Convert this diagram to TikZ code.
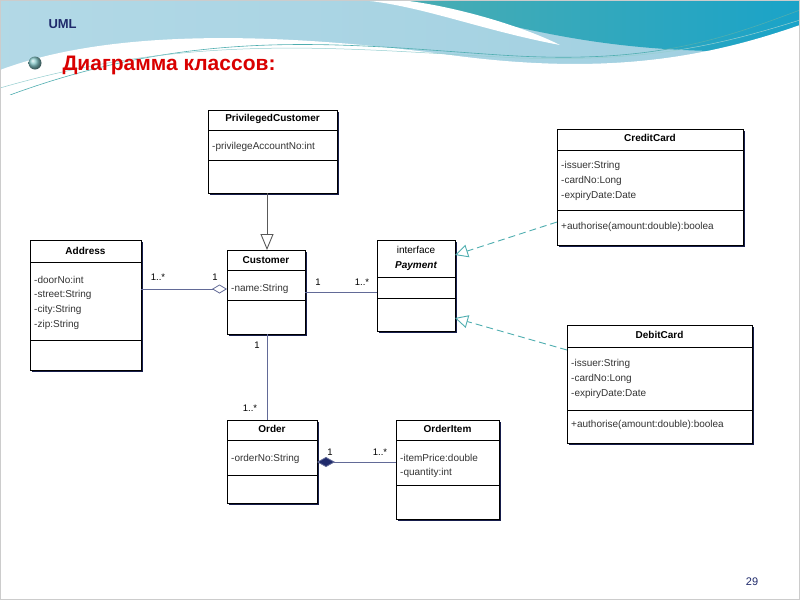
\documentclass[tikz,border=0pt]{standalone}
\usepackage{fontspec}
\setmainfont{Liberation Sans}
\usetikzlibrary{arrows.meta}
\definecolor{navy}{HTML}{1F2A6B}
\definecolor{teal2}{HTML}{4FAEB0}
\definecolor{hdrl}{HTML}{9FCFE0}
\definecolor{hdrd}{HTML}{1AA3C8}
\tikzset{
 box/.style={draw=black, line width=0.8pt, fill=white},
 shadowline/.style={draw=navy!70!black, line width=2pt},
 txt/.style={font=\fontsize{10}{11}\selectfont, text=black!80, inner sep=0pt, anchor=west},
 ttl/.style={font=\bfseries\fontsize{10}{11}\selectfont, inner sep=0pt},
 conn/.style={draw=navy!70, line width=0.8pt},
 lbl/.style={font=\fontsize{9.5}{11}\selectfont, inner sep=0pt},
 real/.style={draw=teal2, line width=0.9pt, dash pattern=on 7pt off 4pt, -{Triangle[open,length=13pt,width=13pt,fill=white]}},
}
\newcommand{\umlbox}[7]{
 \draw[shadowline] (#2+2,#5+1) -- (#4+1,#5+1) -- (#4+1,#3+2);
 \path[box] (#2,#3) rectangle (#4,#5);
 \draw[line width=0.6pt] (#2,#6) -- (#4,#6) (#2,#7) -- (#4,#7);
 \coordinate (#1) at ({(#2+#4)/2},{(#3+#5)/2});
}
\begin{document}
\begin{tikzpicture}[x=1pt,y=-1pt]
\useasboundingbox (0,0) rectangle (800,600);
\fill[white] (0,0) rectangle (800,600);
% header background
\shade[left color=hdrl!80, right color=hdrl] (0,0) rectangle (800,95);
\shade[left color=teal2, right color=hdrd] (360,0) .. controls (500,10) and (560,60) .. (800,50) -- (800,0) -- cycle;
\fill[white] (360,0) .. controls (420,5) and (480,30) .. (560,45) .. controls (520,25) and (450,5) .. (400,0) -- cycle;
\fill[white] (0,95) -- (0,70) .. controls (120,25) and (300,35) .. (450,55) .. controls (600,75) and (700,60) .. (800,25) -- (800,95) -- cycle;
\draw[teal2, line width=0.6pt] (10,95) .. controls (200,25) and (350,45) .. (500,55) .. controls (650,65) and (720,40) .. (800,10);
\draw[teal2!60, line width=0.5pt] (0,88) .. controls (200,30) and (350,50) .. (520,58) .. controls (650,62) and (720,45) .. (800,20);
\fill[white] (0,95) rectangle (800,600);
\draw[gray!40, line width=1pt] (0.5,0.5) rectangle (799.5,599.5);
\node[font=\bfseries\fontsize{13}{14}\selectfont, text=navy, anchor=west] (uml) at (45,24) {UML};
\shade[ball color=teal2!70] (35,63) circle (6.5);
\node[font=\bfseries\fontsize{21}{23}\selectfont, text=red!85!black, anchor=west] (title) at (59,65) {Диаграмма классов:};
\node[font=\fontsize{11}{12}\selectfont, text=navy] (pg) at (752,582) {29};
% boxes
\umlbox{pc}{208}{110}{337}{193}{130}{160}
\node[ttl] at (272.5,119) {PrivilegedCustomer};
\node[txt] at (212,147) {-privilegeAccountNo:int};
\umlbox{cu}{227}{250}{305}{334}{270}{300}
\node[ttl] at (266,260) {Customer};
\node[txt] at (231,289) {-name:String};
\umlbox{ad}{30}{240}{141}{370}{262}{340}
\node[ttl] at (85.5,251) {Address};
\node[txt] at (34,280) {-doorNo:int};
\node[txt] at (34,295) {-street:String};
\node[txt] at (34,310) {-city:String};
\node[txt] at (34,325) {-zip:String};
\umlbox{pa}{377}{240}{455}{331}{277}{298}
\node[font=\fontsize{10}{11}\selectfont, inner sep=0pt] at (416,250) {interface};
\node[ttl, font=\bfseries\itshape\fontsize{10}{11}\selectfont] at (416,266) {Payment};
\umlbox{cc}{557}{129}{743}{245}{150}{210}
\node[ttl] at (650,138) {CreditCard};
\node[txt] at (561,166) {-issuer:String};
\node[txt] at (561,181) {-cardNo:Long};
\node[txt] at (561,196) {-expiryDate:Date};
\node[txt] at (561,227) {+authorise(amount:double):boolea};
\umlbox{dc}{567}{325}{752}{443}{347}{410}
\node[ttl] at (659.5,335) {DebitCard};
\node[txt] at (571,364) {-issuer:String};
\node[txt] at (571,379) {-cardNo:Long};
\node[txt] at (571,394) {-expiryDate:Date};
\node[txt] at (571,425) {+authorise(amount:double):boolea};
\umlbox{or}{227}{420}{317}{503}{440}{475}
\node[ttl] at (272,429) {Order};
\node[txt] at (231,459) {-orderNo:String};
\umlbox{oi}{396}{420}{499}{519}{440}{485}
\node[ttl] at (447.5,429) {OrderItem};
\node[txt] at (400,458) {-itemPrice:double};
\node[txt] at (400,473) {-quantity:int};
% connection points
\coordinate (pcB) at (267,193); \coordinate (cuT) at (267,250);
\coordinate (adR) at (141,289); \coordinate (cuL) at (227,289);
\coordinate (cuR) at (305,292); \coordinate (paL) at (377,292);
\coordinate (ccL) at (557,222); \coordinate (paR1) at (455,255);
\coordinate (dcL) at (567,350); \coordinate (paR2) at (455,318);
\coordinate (cuB) at (267,334); \coordinate (orT) at (267,420);
\coordinate (orR) at (317,462); \coordinate (oiL) at (396,462);
\draw[draw=gray!70!black, line width=0.9pt, -{Triangle[open,length=16pt,width=13pt,fill=white]}] (pcB) -- (cuT);
\draw[conn, -{Diamond[open,length=15pt,width=9pt,fill=white]}] (adR) -- (cuL);
\draw[conn] (cuR) -- (paL);
\draw[real] (ccL) -- (paR1);
\draw[real] (dcL) -- (paR2);
\draw[conn] (cuB) -- (orT);
\draw[conn, -{Diamond[length=18pt,width=10pt,fill=navy]}] (oiL) -- (orR);
% multiplicities
\node[lbl] at (158,277) {1..*};
\node[lbl] at (215,277) {1};
\node[lbl] at (318,282) {1};
\node[lbl] at (362,282) {1..*};
\node[lbl] at (257,345) {1};
\node[lbl] at (250,408) {1..*};
\node[lbl] at (330,452) {1};
\node[lbl] at (380,452) {1..*};
\end{tikzpicture}
\end{document}
